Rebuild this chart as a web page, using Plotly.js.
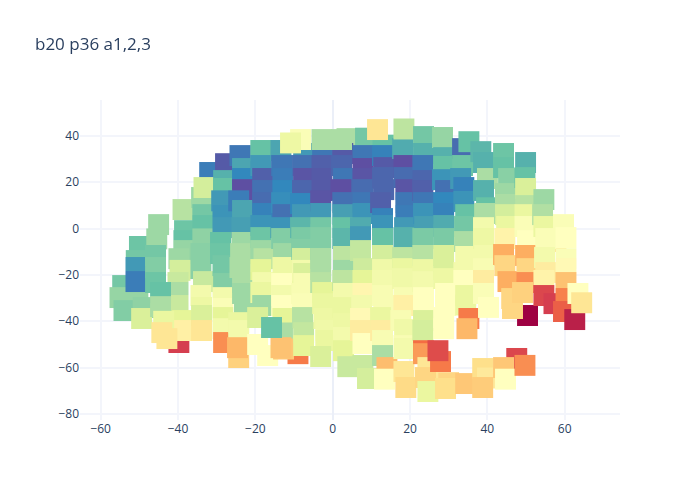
<!DOCTYPE html>
<html><head><meta charset="utf-8">
<script src="https://cdn.plot.ly/plotly-3.0.1.min.js"></script>
<style>html,body{margin:0;padding:0;background:#fff}</style></head>
<body><div id="chart" style="width:700px;height:500px"></div>
<script>
// each entry: [x, y, value]
const column01 = [[-50,-7.7,.79],[-50.8,-13.8,.78],[-50.9,-16.8,.87],[-54.3,-24.6,.78],[-55,-29.8,.73],[-50.4,-28.9,.73],[-54,-35.4,.76],[-49,-34.1,.74],[-49.4,-38.8,.62],[-50.9,-22.9,.92]];
const column02 = [[-38.7,8.2,.68],[-38.3,-.9,.79],[-38.5,-5.2,.8],[-38.5,-9.5,.73],[-39.8,-13,.72],[-39.5,-18,.63],[-40,-23.3,.65],[-40,-27.6,.7],[-40,-33.2,.65],[-38.8,-39.7,.6],[-39.8,-49.2,.1],[-38.8,-44,.45]];
const column03 = [[-45,1.7,.72],[-45.5,-4.4,.72],[-45.8,-11.6,.78],[-45.8,-16.8,.76],[-45.8,-23.3,.79],[-44.5,-27.6,.8],[-44.5,-33.7,.7],[-43.7,-40,.58],[-44.2,-44.9,.42],[-42.9,-47.5,.42]];
const column04 = [[-31.8,24.2,.92],[-33.9,13.4,.72],[-33.6,6,.78],[-33.6,1.3,.8],[-33.6,-4.4,.74],[-34.1,-10.8,.75],[-34.1,-17.3,.75],[-33.4,-22.9,.65],[-34.1,-28.9,.55],[-33.9,-34,.57],[-33.9,-37.5,.62],[-33.9,-44,.42],[-33.3,17.7,.63]];
const column05 = [[-27.7,28,.98],[-28.2,20.7,.83],[-28.2,17.3,.8],[-28.7,12,.87],[-28.4,5.6,.88],[-28.4,.4,.87],[-29,-6,.8],[-29,-10.8,.79],[-28.4,-16,.78],[-28.2,-23.7,.76],[-28.4,-29.8,.55],[-28.4,-34.5,.52],[-28.4,-38.4,.6],[-28.4,-43.2,.55],[-28.2,-49.2,.25]];
const column06 = [[-24,31.5,.93],[-23.3,25.9,.85],[-23.3,21.6,.9],[-23.3,16.8,1],[-24.3,12,.92],[-23.3,7.8,.85],[-23.5,.4,.86],[-23.5,-6,.72],[-23.8,-10.8,.7],[-24,-16.8,.7],[-23.3,-23.3,.7],[-23.3,-28,.72],[-22.8,-34.1,.72],[-24.3,-40.6,.58],[-24.3,-44,.55],[-24.3,-55.7,.37],[-24.6,-51.4,.32]];
const column07 = [[-18.6,33.7,.8],[-18.6,27.2,.87],[-18.1,21.6,.97],[-18.1,16.4,.94],[-18.1,11.2,.95],[-18.1,6.5,.91],[-18.6,1.3,.88],[-18.6,-3.9,.79],[-18.6,-9.5,.72],[-17.8,-13,.68],[-18.6,-17.7,.6],[-18.1,-23.3,.55],[-18.6,-27.6,.58],[-18.1,-33.2,.72],[-19.4,-38.4,.62],[-19.4,-50,.5],[-16.8,-54.8,.5]];
const column08 = [[-9,-54,.22],[-13.4,33.7,.85],[-13.2,27.2,.93],[-12.9,21.6,.92],[-12.9,16.4,.9],[-13.2,11.2,.89],[-12.9,6,.94],[-13.4,.4,.88],[-13.2,-4.3,.76],[-12.7,-10.8,.72],[-12.9,-16.8,.57],[-12.7,-19,.57],[-13.2,-23.7,.5],[-13.2,-28.9,.55],[-13.2,-33.2,.5],[-12.9,-38.8,.6],[-13,-45,.7],[-12.7,-52,.35],[-13.4,-51.4,.34]];
const column09 = [[-7.5,32.4,.87],[-7.8,27.2,.94],[-7.5,21.6,.99],[-7.8,16.4,.96],[-8.3,10.8,.9],[-7.8,6,.87],[-8.3,.4,.82],[-8,-3.9,.77],[-8,-9,.76],[-7.8,-12.9,.63],[-7.8,-18,.55],[-7.5,-19.4,.62],[-7.5,-23.7,.53],[-8,-28,.53],[-7.8,-32.4,.52],[-7.8,-38.4,.68],[-7.5,-44.9,.66],[-7.5,-50.5,.6]];
const column10 = [[-2.6,32.4,.93],[-2.8,27.2,.97],[-2.8,21.6,.98],[-2.8,16.4,.98],[-3.1,12,.99],[-3.1,6.5,.87],[-3.1,.4,.78],[-3.1,-3.9,.76],[-3.1,-9,.76],[-3.1,-12.9,.7],[-3.1,-17.7,.7],[-3.1,-23.3,.68],[-2.6,-27.6,.6],[-2.6,-32.4,.58],[-2.3,-38.8,.57],[-1.8,-44,.56],[-1.8,-48.3,.58],[-3.1,-55.2,.62]];
const column11 = [[3.7,38.8,.7],[2.6,32.4,.98],[2.3,27.2,.96],[2.8,21.6,.93],[2.8,16.8,.95],[2.1,16.8,1],[2.6,11.2,.94],[2.6,6,.86],[2.6,.4,.8],[2.6,-4.3,.82],[2.8,-12,.67],[2.8,-18,.72],[2.6,-22.4,.67],[2.8,-28,.55],[2.6,-34.1,.58],[2.8,-41,.57],[2.8,-47,.55],[2.8,-52.7,.6],[3.9,-59.6,.65]];
const column12 = [[8.5,39,.78],[7.8,31.5,.93],[7.8,25.9,1],[7.8,21.6,.99],[7.8,16.8,.95],[7.8,11.2,.93],[7.8,6.5,.88],[7.2,.4,.84],[7.2,-3.5,.87],[7.2,-9.5,.66],[8,-17.3,.64],[7.8,-22.4,.6],[7.8,-28,.47],[7.5,-33.2,.55],[7.2,-38.8,.48],[7.2,-44,.44],[7.8,-49.6,.5],[7.8,-59.1,.65],[9,-64.7,.63]];
const column13 = [[13,36,.8],[12.9,31.5,.91],[13.2,26.3,.98],[12.9,22,.96],[13.2,16.8,.96],[12.4,11.2,.97],[12.9,4.3,.91],[12.9,1.3,.88],[12.9,-4.3,.8],[12.9,-11.6,.63],[12.9,-17.7,.56],[12.9,-22.4,.55],[12.9,-28.9,.53],[13.2,-33.2,.53],[12.4,-38.4,.58],[12.4,-44,.44],[12.9,-48.3,.53],[12.9,-54.8,.7],[14,-60,.33],[13.4,-65,.5]];
const column14 = [[18.1,34.5,.84],[18.4,27.2,1],[18.4,22,.95],[18.9,16.8,.99],[18.9,11.2,.93],[18.9,5.6,.92],[18.6,.4,.87],[18.4,-3.9,.83],[18.1,-12.5,.67],[18.1,-17.3,.58],[18.1,-21.6,.56],[18.4,-29.8,.53],[18.4,-33.2,.45],[17.6,-39.7,.53],[18.6,-43.6,.56],[18.4,-50.5,.53],[18.4,-51.8,.55],[18.4,-61.7,.42],[18.9,-68.6,.39],[18.4,43,.67]];
const column15 = [[23.5,39.7,.78],[23.5,32.4,.83],[23.3,27.2,.93],[23.3,20.7,.96],[23.3,16.4,.97],[23.5,11.2,.93],[23.5,6.5,.88],[23.8,.9,.86],[23.3,-4.3,.77],[23.3,-11.6,.68],[23.3,-17.7,.57],[23.3,-22.9,.55],[23.5,-29.8,.5],[23.5,-33.2,.5],[23.5,-39.7,.62],[23.3,-44,.63],[23.5,-52.7,.2],[23.5,-54,.27],[24.6,-60,.42],[24,-64.3,.38],[24.6,-70.3,.58],[27.9,-57.4,.22],[27.2,-52.7,.13]];
const column16 = [[28.4,39.3,.73],[28.7,30.6,.83],[28.7,26.8,.8],[28.4,21.1,.88],[29.2,16.4,.94],[28.7,11.2,.9],[28.7,6.5,.91],[28.7,1.3,.84],[28.7,-4.3,.77],[28.7,-11.6,.62],[28.7,-17.7,.62],[28.7,-21.6,.57],[29.2,-28,.5],[29.2,-33.2,.5],[28.7,-38.4,.5],[28.7,-43.2,.5],[30,-66.5,.38],[29.2,-69,.4]];
const column17 = [[33.6,34.5,.95],[35.2,37.5,.8],[33.6,27.2,.79],[33.1,21.6,.87],[33.9,17.7,.91],[33.9,11.7,.88],[34.4,6,.8],[34.1,.9,.78],[34.1,-5.6,.7],[34.4,-12,.55],[33.9,-19,.55],[33.9,-22.4,.5],[34.4,-28.9,.58],[34.4,-33,.58],[35.2,-38.8,.22],[34.7,-43.2,.32],[34.4,-66.9,.35]];
const column18 = [[38.3,33.2,.82],[39,28.5,.83],[40,21.6,.7],[39,16.4,.83],[39.8,9,.8],[39.3,6.5,.7],[39,.4,.55],[39,-4.3,.57],[39.3,-11.6,.55],[39,-17.3,.53],[39,-22.4,.44],[39,-28,.52],[40.3,-34,.5],[38.8,-60.4,.4],[40,-64.5,.43],[38.8,-68.6,.36]];
const column19 = [[50.4,-37.5,0],[44.2,32.4,.79],[44.2,26.3,.8],[45.5,21.6,.75],[44.7,15.1,.72],[44.7,10.4,.7],[44.7,6,.63],[45,.9,.58],[44.5,-4.3,.46],[44.2,-11.2,.3],[44.5,-16,.38],[45.3,-22.9,.3],[46.3,-30.2,.38],[46.5,-34.5,.38],[47.6,-56,.12],[44.2,-60,.35],[44.7,-65,.5]];
const column20 = [[49.9,28.5,.83],[49.7,22,.8],[49.9,17.3,.62],[49.9,9.9,.68],[49.7,6,.58],[49.7,.9,.52],[50.4,-5.2,.5],[49.9,-11.6,.3],[50.2,-17.3,.38],[50.2,-23.3,.25],[49.1,-27.6,.37],[49.7,-59,.25]];
const column21 = [[57.7,-5.6,.38],[54.6,12.5,.72],[54.3,6,.69],[54.6,.9,.58],[55.1,-4.3,.52],[54.8,-12.5,.55],[55.1,-19,.44],[54.6,-22.4,.46],[54.6,-28.9,.12],[57.2,-32.4,.1]];
const column22 = [[59.7,1.7,.52],[60.3,-3.9,.5],[60.3,-13,.52],[60.3,-17.3,.48],[60.3,-23.3,.34],[60.3,-30.2,.23],[59.7,-35.8,.17],[62.6,-39.3,.05],[63.4,-28,.5],[64.4,-32,.42]];
const topRow = [[-8.3,38.4,.52],[-10.9,37,.57],[-2.8,38.4,.7],[2.3,38.4,.7],[11.6,42.7,.42],[-15.8,-42.7,.8]];

const spectral = [[0,'rgb(158,1,66)'],[.1,'rgb(213,62,79)'],[.2,'rgb(244,109,67)'],[.3,'rgb(253,174,97)'],[.4,'rgb(254,224,139)'],[.5,'rgb(255,255,191)'],[.6,'rgb(230,245,152)'],[.7,'rgb(171,221,164)'],[.8,'rgb(102,194,165)'],[.9,'rgb(50,136,189)'],[1,'rgb(94,79,162)']];

const points = [].concat(column01,column02,column03,column04,column05,column06,column07,column08,column09,column10,column11,column12,column13,column14,column15,column16,column17,column18,column19,column20,column21,column22,topRow);

Plotly.newPlot('chart',[{
  type:'scattergl',mode:'markers',
  x:points.map(p=>p[0]),y:points.map(p=>p[1]),
  marker:{symbol:'square',size:21.5,opacity:1,color:points.map(p=>p[2]),cmin:0,cmax:1,colorscale:spectral,showscale:false,line:{width:0}}
}],{
  width:700,height:500,
  paper_bgcolor:'#fff',plot_bgcolor:'#fff',
  font:{family:'"Open Sans", verdana, arial, sans-serif',size:12,color:'#2a3f5f'},
  title:{text:'b20 p36 a1,2,3',x:.05,font:{size:17,color:'#2a3f5f'}},
  margin:{l:80,r:80,t:100,b:80},
  xaxis:{range:[-65.35,74.3],tickvals:[-60,-40,-20,0,20,40,60],gridcolor:'#f3f5fb',gridwidth:2,zerolinecolor:'#ebeff8',zerolinewidth:2,ticks:'',showline:false},
  yaxis:{range:[-82.6,55.5],tickvals:[-80,-60,-40,-20,0,20,40],gridcolor:'#f3f5fb',gridwidth:2,zerolinecolor:'#f3f5fb',zerolinewidth:2,ticks:'',showline:false},
  showlegend:false,hovermode:'closest'
},{displayModeBar:false});
</script></body></html>
